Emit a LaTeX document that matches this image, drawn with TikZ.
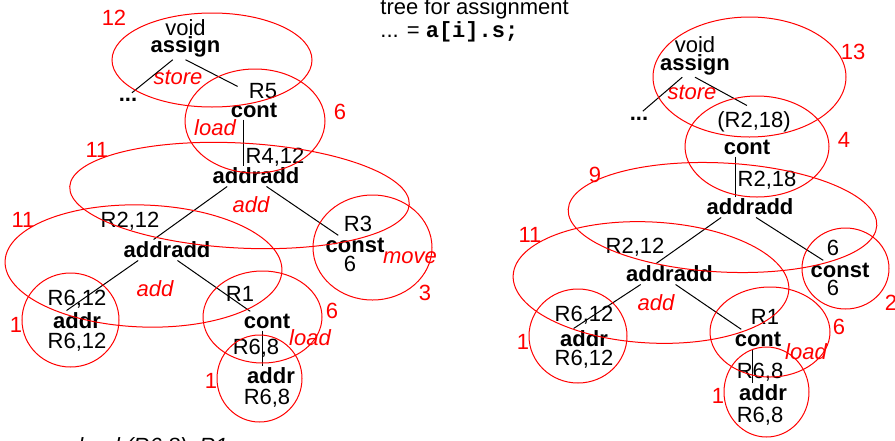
\documentclass[tikz,border=0pt]{standalone}
\usepackage{fontspec}
\setmainfont{Liberation Sans}
\setmonofont{Liberation Mono}
\usetikzlibrary{positioning}
\tikzset{>=latex}

\begin{document}
\begin{tikzpicture}[x=0.5pt, y=-0.5pt, node distance=10pt, on grid,
		every node/.style={inner sep=1pt, font=\fontsize{11}{13}\selectfont},
		op/.style={font=\fontsize{11}{13}\selectfont\bfseries},
		rule/.style={text=red, font=\fontsize{11}{13}\selectfont\itshape},
		cost/.style={text=red},
		tile/.style={draw=red, line width=0.5pt},
		wire/.style={draw, line width=0.5pt}]
		\useasboundingbox (0,0) rectangle (895,440);
		% caption
		\node[anchor=base west] (title) at (378,14) {tree for assignment};
		\node[anchor=base west] (code) at (378,37) {... = \texttt{\bfseries a[i].s;}};
		\node[anchor=base west, font=\fontsize{11}{13}\selectfont\itshape] (note) at (76,453) {load (R6,8), R1};
		% left tree
		\node[op] (assign1) at (185.5,47) {assign};
		\node (void1) [above=9.5pt of assign1] {void};
		\node[op] (dots1) at (128,100) {...};
		\node[rule] (store1) at (178,77) {store};
		\node (r5) at (263,91) {R5};
		\node[op] (cont1) at (254,110) {cont};
		\node[rule] (load1) at (215,128) {load};
		\node (r412) at (275,157) {R4,12};
		\node[op] (addradd1) at (256,176) {addradd};
		\node[rule] (add1) at (251,205) {add};
		\node (r212) at (130,221) {R2,12};
		\node[op] (addradd2) at (167,250) {addradd};
		\node[rule] (add2) at (155,289) {add};
		\node[op] (addr1) at (77,321) {addr};
		\node (r612a) [above=11pt of addr1] {R6,12};
		\node (r612b) [below=10.5pt of addr1] {R6,12};
		\node (r1) at (240,294) {R1};
		\node[op] (cont2) at (267,321) {cont};
		\node[rule] (load2) at (310,338) {load};
		\node (r68a) at (256,348) {R6,8};
		\node[op] (addr2) at (271,376) {addr};
		\node (r68b) at (267,398) {R6,8};
		\node (r3) at (358,224) {R3};
		\node[op] (const1) at (355,245) {const};
		\node (six1) at (350,264) {6};
		\node[rule] (move1) at (410,258) {move};
		\node[cost] (c12) at (114,18) {12};
		\node[cost] (c6a) at (340,112) {6};
		\node[cost] (c11a) at (97,150) {11};
		\node[cost] (c11b) at (23,220) {11};
		\node[cost] (c1a) at (16,325) {1};
		\node[cost] (c6b) at (332,311) {6};
		\node[cost] (c1b) at (211,381) {1};
		\node[cost] (c3) at (425,293) {3};
		% right tree
		\node[op] (assignR) at (695,64.5) {assign};
		\node (voidR) [above=9.75pt of assignR] {void};
		\node[op] (dotsR) at (639,118.5) {...};
		\node[rule] (storeR) at (692,92) {store};
		\node (r218p) at (754,122) {(R2,18)};
		\node[op] (contR) at (747,147) {cont};
		\node (r218) at (767,180) {R2,18};
		\node[op] (addraddR) at (750,207) {addradd};
		\node (r212R) at (635,247) {R2,12};
		\node[op] (addraddR2) at (669.5,274) {addradd};
		\node[rule] (addR) at (656,303) {add};
		\node[op] (addrR1) at (584,339) {addr};
		\node (r612Ra) [above=12pt of addrR1] {R6,12};
		\node (r612Rb) [below=10pt of addrR1] {R6,12};
		\node (r1R) at (765,317) {R1};
		\node[op] (contR2) at (758,339) {cont};
		\node[rule] (loadR) at (806,352) {load};
		\node (r68Ra) at (760,372) {R6,8};
		\node[op] (addrR2) at (763,393) {addr};
		\node (r68Rb) at (760,416) {R6,8};
		\node (sixR1) at (833,248) {6};
		\node[op] (constR) at (840,270) {const};
		\node (sixR2) at (833,288) {6};
		\node[cost] (c13) at (853,52) {13};
		\node[cost] (c4) at (844,140) {4};
		\node[cost] (c9) at (595,175) {9};
		\node[cost] (c11R) at (530,235) {11};
		\node[cost] (c1R) at (523,342) {1};
		\node[cost] (c6R) at (839,327) {6};
		\node[cost] (c1R2) at (718,396) {1};
		\node[cost] (c2) at (891,303) {2};
		% tree edges
		\draw[wire, shorten >=2.5pt] (assign1.-135) -- (dots1.north);
		\draw[wire, shorten >=5pt] (assign1.south) -- (r5.west);
		\draw[wire] (cont1.south -| r412.west) -- (addradd1.north -| r412.west);
		\draw[wire] (addradd1.-160) -- (addradd2.142);
		\draw[wire] (addradd1.-45) -- (const1.150);
		\draw[wire] (addradd2.-160) -- (addr1.135);
		\draw[wire] (addradd2.-45) -- (cont2.150);
		\draw[wire] ([xshift=-2.5pt]cont2.south) -- ([xshift=-2.5pt]cont2.south |- addr2.north);
		\draw[wire, shorten >=2.5pt] (assignR.-135) -- (dotsR.north);
		\draw[wire, shorten >=4pt] (assignR.south) -- (r218p.north);
		\draw[wire] (contR.south -| r218.west) -- (addraddR.north -| r218.west);
		\draw[wire] (addraddR.-160) -- (addraddR2.142);
		\draw[wire] (addraddR.-60) -- (constR.150);
		\draw[wire] (addraddR2.-160) -- (addrR1.135);
		\draw[wire] (addraddR2.-60) -- (contR2.150);
		\draw[wire] ([xshift=-3pt]contR2.south) -- ([xshift=-3pt]contR2.south |- addrR2.north);
		% tiles
		\draw[tile] (212,60) ellipse [x radius=100, y radius=47];
		\draw[tile] (255,121) ellipse [x radius=70, y radius=52];
		\draw[tile, rotate around={-3:(239.5,195.5)}] (239.5,195.5) ellipse [x radius=170, y radius=52.5];
		\draw[tile, rotate around={-2:(143.5,266)}] (143.5,266) ellipse [x radius=138.5, y radius=61];
		\draw[tile] (70.5,320) ellipse [x radius=48.5, y radius=47];
		\draw[tile] (262.5,317) ellipse [x radius=59.5, y radius=46];
		\draw[tile] (259.5,378.5) ellipse [x radius=42.5, y radius=43.5];
		\draw[tile] (372.5,247.5) ellipse [x radius=59.5, y radius=52.5];
		\draw[tile] (749.5,77) ellipse [x radius=96.5, y radius=60];
		\draw[tile] (757,146.5) ellipse [x radius=72, y radius=50.5];
		\draw[tile, rotate around={-3:(722.5,217.5)}] (722.5,217.5) ellipse [x radius=154.5, y radius=54.5];
		\draw[tile, rotate around={-3:(651,282.5)}] (651,282.5) ellipse [x radius=138, y radius=60.5];
		\draw[tile] (578,336) ellipse [x radius=49, y radius=47];
		\draw[tile] (770,332) ellipse [x radius=60, y radius=45];
		\draw[tile] (766.5,392) ellipse [x radius=42.5, y radius=45];
		\draw[tile] (845.5,268.5) ellipse [x radius=43.5, y radius=40.5];
	\end{tikzpicture}
\end{document}
